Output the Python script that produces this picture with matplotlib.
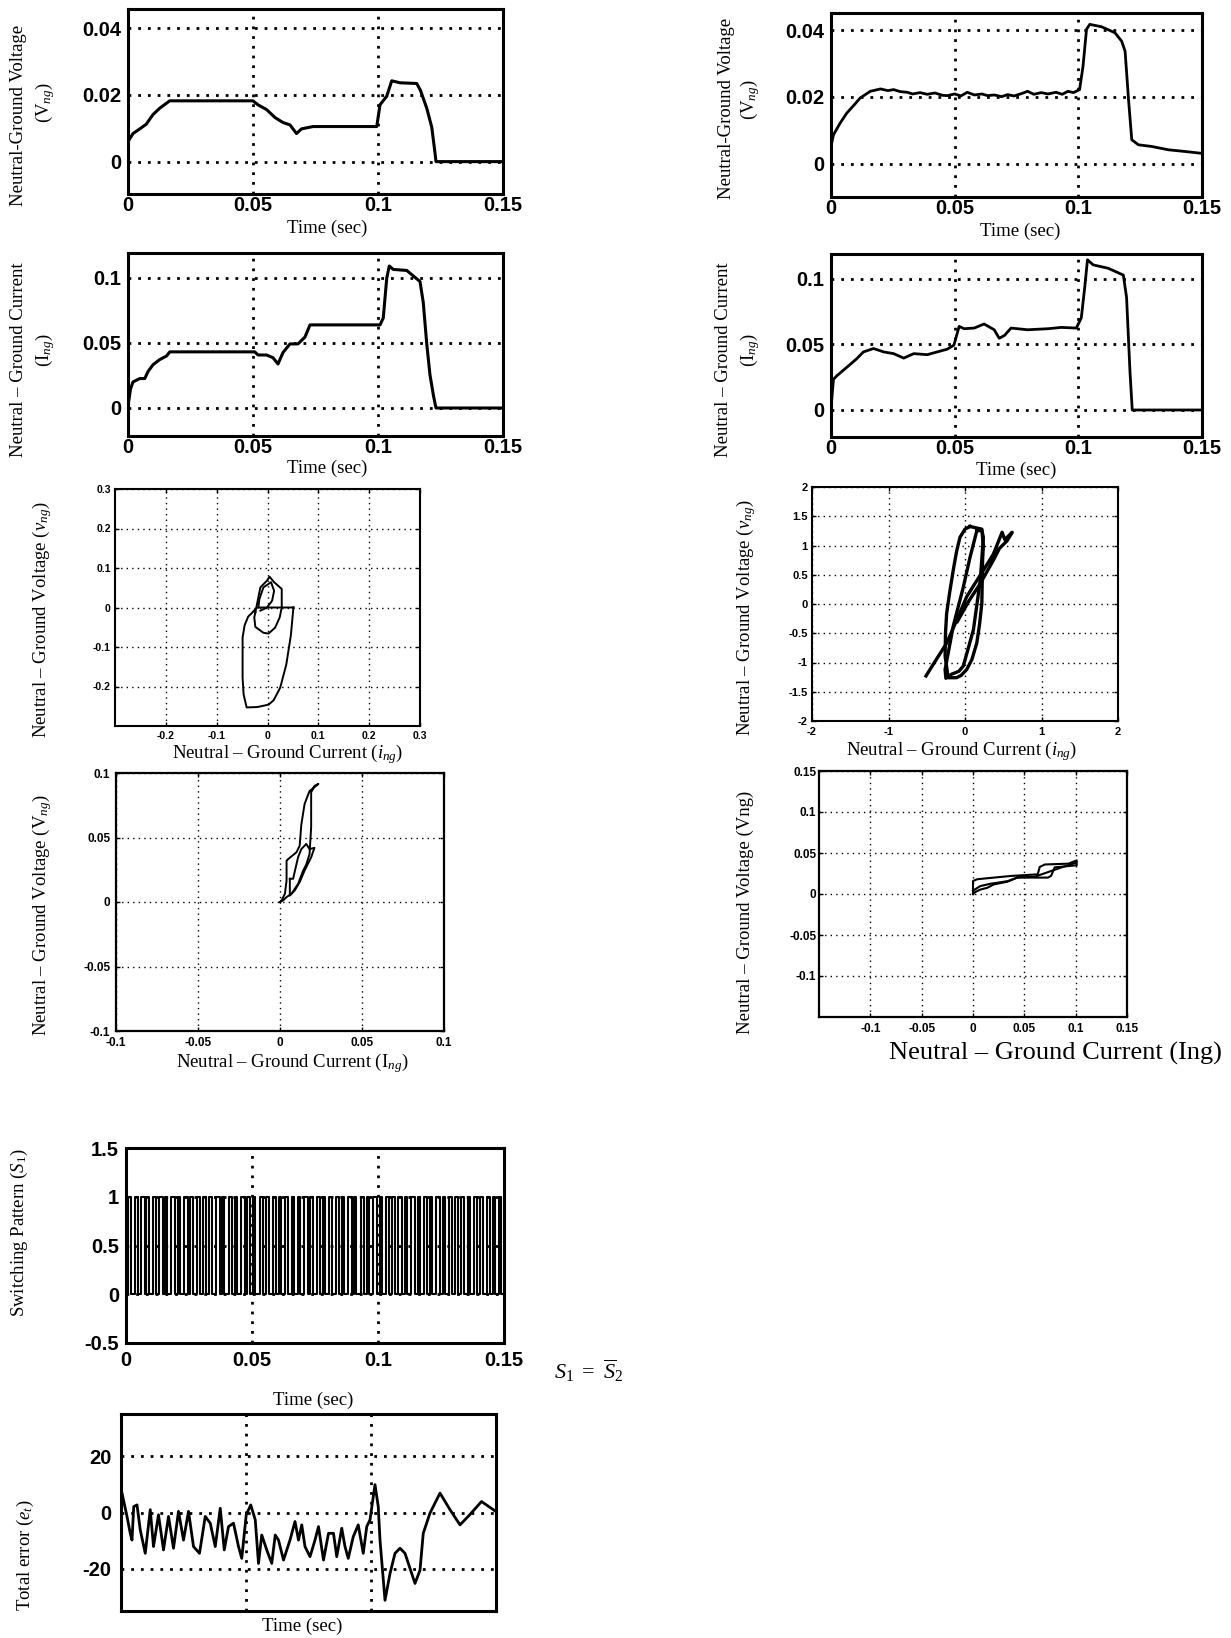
import matplotlib
matplotlib.use('Agg')
import matplotlib.pyplot as plt
import numpy as np

plt.rcParams['font.family'] = ['Liberation Serif', 'DejaVu Serif']
plt.rcParams['mathtext.fontset'] = 'custom'
plt.rcParams['mathtext.rm'] = 'Liberation Serif'
plt.rcParams['mathtext.it'] = 'Liberation Serif:italic'
plt.rcParams['axes.unicode_minus'] = False

# ---------------- data ----------------
# Plot 1: left neutral-ground voltage vs time
v1_t = [0, 0.002, 0.0047, 0.0073, 0.010, 0.0127, 0.0167, 0.050, 0.052, 0.0554, 0.0588,
        0.062, 0.0648, 0.0674, 0.0694, 0.074, 0.0995, 0.1008, 0.1035, 0.1055, 0.1088,
        0.1155, 0.117, 0.1195, 0.1215, 0.1228, 0.1232, 0.15]
v1_v = [0.006, 0.0084, 0.0098, 0.0112, 0.0141, 0.016, 0.0182, 0.0182, 0.017, 0.0156, 0.0132,
        0.0117, 0.011, 0.0084, 0.0098, 0.0105, 0.0105, 0.017, 0.0196, 0.0242, 0.0236,
        0.0234, 0.0213, 0.016, 0.0103, 0.0026, 0.0, 0.0]

# Plot 2: right neutral-ground voltage vs time
v2_t = [0, 0.001, 0.0037, 0.0064, 0.0091, 0.0118, 0.0159, 0.020, 0.023, 0.0253, 0.028,
        0.0308, 0.033, 0.036, 0.0389, 0.042, 0.045, 0.047, 0.050, 0.0525, 0.0551, 0.058,
        0.061, 0.0633, 0.066, 0.069, 0.0714, 0.074, 0.077, 0.0795, 0.082, 0.085, 0.0877,
        0.091, 0.0935, 0.0958, 0.098, 0.1005, 0.1019, 0.1033, 0.1046, 0.1093, 0.1148,
        0.1175, 0.1189, 0.1203, 0.1216, 0.1243, 0.1297, 0.1365, 0.1432, 0.1493, 0.15]
v2_v = [0.0052, 0.0087, 0.0122, 0.0152, 0.0174, 0.0197, 0.0217, 0.0224, 0.0219, 0.0222, 0.0216,
        0.0214, 0.0209, 0.0213, 0.0208, 0.0212, 0.0205, 0.0204, 0.0209, 0.0203, 0.0214, 0.0206,
        0.0209, 0.0204, 0.0206, 0.0201, 0.0207, 0.0203, 0.0210, 0.0217, 0.0208, 0.0213, 0.0209,
        0.0214, 0.0208, 0.0217, 0.0213, 0.0222, 0.0292, 0.0402, 0.0417, 0.0410, 0.0392,
        0.0367, 0.0337, 0.0192, 0.0072, 0.0057, 0.0052, 0.0042, 0.0037, 0.0032, 0.0032]

# Plot 3: left neutral-ground current vs time
i1_t = [0, 0.001, 0.002, 0.0047, 0.0067, 0.008, 0.010, 0.0127, 0.0154, 0.0167, 0.0507,
        0.052, 0.0554, 0.058, 0.060, 0.062, 0.0648, 0.068, 0.0708, 0.0728, 0.1008, 0.1021,
        0.1035, 0.1045, 0.1061, 0.1115, 0.1168, 0.1181, 0.1195, 0.1208, 0.1222, 0.1232, 0.15]
i1_v = [0.0013, 0.0146, 0.020, 0.0226, 0.0226, 0.028, 0.0332, 0.0372, 0.0399, 0.0431, 0.0431,
        0.0407, 0.0407, 0.0386, 0.0338, 0.0426, 0.0492, 0.0492, 0.0545, 0.0638, 0.0638, 0.0691,
        0.0997, 0.109, 0.1064, 0.1056, 0.0971, 0.0811, 0.0492, 0.0253, 0.0093, 0.0, 0.0]

# Plot 4: right neutral-ground current vs time
i2_t = [0, 0.001, 0.0023, 0.0064, 0.0104, 0.0131, 0.0172, 0.0213, 0.0253, 0.0294, 0.0335,
        0.0389, 0.047, 0.0497, 0.0518, 0.0538, 0.0579, 0.0619, 0.066, 0.068, 0.0701, 0.0728,
        0.0795, 0.0877, 0.0931, 0.0992, 0.1012, 0.1026, 0.1037, 0.106, 0.1121, 0.1182,
        0.1195, 0.1209, 0.1218, 0.15]
i2_v = [0.0013, 0.0234, 0.026, 0.0326, 0.0391, 0.0443, 0.0469, 0.0443, 0.043, 0.0396, 0.043,
        0.0422, 0.0464, 0.0495, 0.0638, 0.062, 0.0625, 0.0656, 0.0612, 0.0547, 0.0568, 0.0625,
        0.0612, 0.062, 0.063, 0.0625, 0.0703, 0.0938, 0.1146, 0.1107, 0.1081, 0.1029,
        0.0859, 0.0286, 0.0, 0.0]

# Plot 5: left i-v trajectory
p5a_i = [0.051, 0.046, 0.037, 0.025, 0.012, 0.002, -0.020, -0.041, -0.047, -0.049, -0.049,
         -0.045, -0.038, -0.030, -0.021, 0.000, 0.051]
p5a_v = [0.000, -0.070, -0.144, -0.203, -0.235, -0.246, -0.252, -0.253, -0.220, -0.178, -0.076,
         -0.045, -0.023, -0.013, 0.000, 0.000, 0.000]
p5b_i = [-0.024, -0.014, -0.001, 0.004, 0.013, 0.028, 0.028, 0.024, 0.015, 0.002, -0.008,
         -0.024, -0.026, -0.024]
p5b_v = [-0.013, 0.051, 0.068, 0.078, 0.064, 0.047, 0.000, -0.025, -0.051, -0.066, -0.064,
         -0.049, -0.025, -0.013]
p5c_i = [-0.018, -0.016, -0.008, 0.007, 0.013, 0.009, -0.001, -0.014]
p5c_v = [0.000, 0.021, 0.051, 0.064, 0.042, 0.017, 0.000, -0.008]

# Plot 6: right i-v trajectory
p6a_i = [0.066, 0.15, 0.22, 0.24, 0.23, 0.22, 0.19, 0.154, 0.09, 0.022, -0.05, -0.11, -0.22,
         -0.26, -0.255, -0.24, -0.20, -0.154, -0.11, -0.066, 0.0, 0.066]
p6a_v = [1.325, 1.30, 1.28, 1.0, 0.75, 0.01, -0.35, -0.667, -0.95, -1.12, -1.22, -1.26, -1.26,
         -0.89, -0.5, -0.16, 0.2, 0.576, 0.9, 1.14, 1.28, 1.325]
p6b_i = [0.154, 0.066, -0.022, -0.154, -0.26, -0.25, -0.176, -0.08, -0.022, 0.11, 0.20, 0.24,
         0.22, 0.154]
p6b_v = [1.25, 0.80, 0.29, -0.38, -1.12, -1.27, -1.2, -1.15, -1.06, -0.44, 0.41, 1.14, 1.26, 1.25]
p6c_i = [-0.51, -0.40, -0.24, -0.10, 0.022, 0.13, 0.24, 0.37, 0.485, 0.52, 0.617, 0.55, 0.45,
         0.37, 0.2, 0.05, -0.1]
p6c_v = [-1.23, -1.0, -0.67, -0.25, 0.124, 0.35, 0.576, 0.85, 1.226, 1.1, 1.226, 1.08, 0.95,
         0.746, 0.35, 0.05, -0.3]

# Plot 7: left I-V trajectory
p7a_i = [0.0, 0.002, 0.004, 0.007, 0.011, 0.014, 0.016, 0.018, 0.019, 0.019, 0.021, 0.0234,
         0.021, 0.018, 0.015, 0.013, 0.012, 0.010, 0.005, 0.004, 0.004, 0.003, 0.001, 0.0]
p7a_v = [0.0, 0.0013, 0.0038, 0.0064, 0.014, 0.024, 0.029, 0.037, 0.058, 0.085, 0.090, 0.0915,
         0.089, 0.086, 0.076, 0.060, 0.0436, 0.0385, 0.0333, 0.032, 0.0167, 0.0064, 0.0013, 0.0]
p7b_i = [0.006, 0.008, 0.011, 0.013, 0.016, 0.018, 0.021, 0.019, 0.015, 0.012, 0.009, 0.006, 0.006]
p7b_v = [0.018, 0.018, 0.0346, 0.041, 0.045, 0.041, 0.042, 0.0346, 0.0244, 0.0154, 0.009, 0.005,
         0.018]

# Plot 8: right I-V trajectory
p8a_i = [0.0, 0.0, 0.004, 0.0204, 0.0368, 0.063, 0.065, 0.070, 0.093, 0.101, 0.101, 0.0796,
         0.076, 0.073, 0.053, 0.043, 0.0336, 0.0204, 0.0138, 0.0072, 0.0023, 0.0]
p8a_v = [0.0, 0.0158, 0.018, 0.020, 0.022, 0.024, 0.033, 0.036, 0.037, 0.041, 0.035, 0.0325,
         0.022, 0.020, 0.020, 0.020, 0.015, 0.0117, 0.0075, 0.0054, 0.0025, 0.0]
p8b_i = [0.0, 0.007, 0.017, 0.0237, 0.034, 0.043, 0.05, 0.06, 0.076, 0.09, 0.1]
p8b_v = [0.004, 0.0096, 0.0125, 0.0137, 0.0158, 0.020, 0.021, 0.021, 0.028, 0.034, 0.038]

# Plot 9: switching pattern S1 (rising and falling edges, seconds)
s_rise = [0.0008, 0.0035, 0.0058, 0.0081, 0.0107, 0.0131, 0.0155, 0.0180, 0.0206, 0.0232,
          0.0255, 0.0281, 0.0306, 0.0330, 0.0357, 0.0381, 0.0407, 0.0431, 0.0456, 0.0482,
          0.0505, 0.0530, 0.0557, 0.0582, 0.0606, 0.0630, 0.0657, 0.0681, 0.0706, 0.0732,
          0.0756, 0.0781, 0.0805, 0.0832, 0.0857, 0.0880, 0.0906, 0.0931, 0.0956, 0.0982,
          0.1006, 0.1031, 0.1056, 0.1080, 0.1106, 0.1131, 0.1157, 0.1181, 0.1205, 0.1231,
          0.1256, 0.1281, 0.1306, 0.1330, 0.1356, 0.1381, 0.1405, 0.1431, 0.1456, 0.1480]
s_fall = [0.0018, 0.0046, 0.0074, 0.0090, 0.0119, 0.0145, 0.0164, 0.0194, 0.0214, 0.0247,
          0.0264, 0.0295, 0.0316, 0.0341, 0.0372, 0.0390, 0.0421, 0.0439, 0.0471, 0.0493,
          0.0513, 0.0544, 0.0567, 0.0597, 0.0614, 0.0643, 0.0668, 0.0690, 0.0722, 0.0741,
          0.0770, 0.0789, 0.0816, 0.0846, 0.0865, 0.0895, 0.0914, 0.0945, 0.0964, 0.0996,
          0.1014, 0.1045, 0.1066, 0.1094, 0.1115, 0.1145, 0.1166, 0.1195, 0.1214, 0.1245,
          0.1264, 0.1294, 0.1316, 0.1343, 0.1366, 0.1394, 0.1415, 0.1445, 0.1465, 0.1488]

# Plot 10: total error
e_t = [0.0004, 0.0024, 0.0037, 0.0044, 0.0051, 0.0064, 0.0077, 0.0097, 0.0117, 0.0130, 0.0150,
       0.0170, 0.0190, 0.0210, 0.0230, 0.0250, 0.0270, 0.0290, 0.0314, 0.0337, 0.0357, 0.0377,
       0.0397, 0.0413, 0.0430, 0.0450, 0.0470, 0.0483, 0.0501, 0.0519, 0.0537, 0.0550, 0.0563,
       0.0583, 0.0603, 0.0617, 0.0630, 0.0650, 0.0676, 0.0696, 0.0710, 0.0723, 0.0736, 0.0756,
       0.0776, 0.0790, 0.0810, 0.0830, 0.0850, 0.0863, 0.0883, 0.0896, 0.0909, 0.0929, 0.0949,
       0.0969, 0.0983, 0.0996, 0.1016, 0.1029, 0.1036, 0.1056, 0.1076, 0.1096, 0.1116, 0.1136,
       0.1176, 0.1196, 0.1209, 0.1236, 0.1276, 0.1316, 0.1356, 0.1395, 0.1442, 0.1499]
e_v = [6.9, -1.4, -7.4, -9.8, 2.1, 2.7, -6.2, -14.5, 1.0, -12.1, -0.8, -13.3, -1.4, -12.7, 0.4,
       -9.8, 0.4, -12.1, -14.5, -1.4, -3.8, -12.1, 1.5, -13.3, -5.0, -3.8, -12.1, -16.3, -0.8,
       2.7, -2.6, -18.1, -8.0, -13.3, -18.1, -8.0, -9.8, -16.9, -9.8, -3.2, -9.8, -4.4, -12.1,
       -15.7, -9.8, -5.0, -16.9, -7.4, -7.4, -15.7, -5.6, -12.1, -16.3, -8.6, -4.4, -14.5, -5.0,
       -2.6, 9.9, 2.1, -9.8, -31.2, -21.7, -14.5, -12.7, -14.5, -25.2, -20.5, -7.4, -0.2, 6.9,
       1.0, -4.4, -0.8, 3.9, 0.4]

time_ticks = [0, 0.05, 0.1, 0.15]
time_labels = ['0', '0.05', '0.1', '0.15']

# ---------------- layout ----------------
W, H = 1231, 1638
fig = plt.figure(figsize=(W / 100, H / 100), dpi=100)


def add_ax(l, r, t, b):
    return fig.add_axes([l / W, 1 - b / H, (r - l) / W, (b - t) / H])


def style(ax, xlim, ylim, xt, xtl, yt, ytl, fs, spine_lw, glw, gls, xpad, ypad, tlen=3):
    ax.set_xlim(xlim)
    ax.set_ylim(ylim)
    ax.set_xticks(xt)
    ax.set_xticklabels(xtl)
    ax.set_yticks(yt)
    ax.set_yticklabels(ytl)
    for lab in ax.get_xticklabels() + ax.get_yticklabels():
        lab.set_fontfamily(['Liberation Sans', 'DejaVu Sans'])
        lab.set_fontweight('bold')
        lab.set_fontsize(fs)
    ax.tick_params(direction='in', length=tlen, width=1, top=True, right=True)
    ax.tick_params(axis='x', pad=xpad)
    ax.tick_params(axis='y', pad=ypad)
    for s in ax.spines.values():
        s.set_linewidth(spine_lw)
    ax.set_axisbelow(True)
    ax.grid(True, color='black', linestyle=gls, linewidth=glw)


def vtext(x, y, s, fs=13.5):
    fig.text(x / W, 1 - y / H, s, rotation=90, fontsize=fs, ha='center', va='center')


def htext(x, y, s, fs=13.5):
    fig.text(x / W, 1 - y / H, s, fontsize=fs, ha='center', va='center')


big_grid = (0, (1, 2.5))
small_grid = (0, (1, 3))

# Plot 1
ax1 = add_ax(128, 503, 9, 194)
ax1.plot(v1_t, v1_v, color='black', lw=2.2)
style(ax1, (0, 0.15), (-0.0097, 0.0457), time_ticks, time_labels,
      [0, 0.02, 0.04], ['0', '0.02', '0.04'], 14.5, 2.2, 2.0, big_grid, 1.5, 5, tlen=0)
vtext(19, 115, 'Neutral-Ground Voltage')
vtext(45, 103, r'(V$_{ng}$)')
htext(327, 228, 'Time (sec)')

# Plot 2
ax2 = add_ax(831, 1202, 13, 197)
ax2.plot(v2_t, v2_v, color='black', lw=2.0)
style(ax2, (0, 0.15), (-0.0099, 0.0451), time_ticks, time_labels,
      [0, 0.02, 0.04], ['0', '0.02', '0.04'], 14.5, 2.2, 2.0, big_grid, 1.5, 5, tlen=0)
vtext(727, 108, 'Neutral-Ground Voltage')
vtext(750, 100, r'(V$_{ng}$)')
htext(1020, 231, 'Time (sec)')

# Plot 3
ax3 = add_ax(128, 503, 253, 436)
ax3.plot(i1_t, i1_v, color='black', lw=2.2)
style(ax3, (0, 0.15), (-0.0215, 0.119), time_ticks, time_labels,
      [0, 0.05, 0.1], ['0', '0.05', '0.1'], 14.5, 2.2, 2.0, big_grid, 1.5, 5, tlen=0)
vtext(19, 360, 'Neutral – Ground Current')
vtext(45, 350, r'(I$_{ng}$)')
htext(327, 468, 'Time (sec)')

# Plot 4
ax4 = add_ax(831, 1202, 254, 437)
ax4.plot(i2_t, i2_v, color='black', lw=2.0)
style(ax4, (0, 0.15), (-0.0206, 0.119), time_ticks, time_labels,
      [0, 0.05, 0.1], ['0', '0.05', '0.1'], 14.5, 2.2, 2.0, big_grid, 1.5, 5, tlen=0)
vtext(724, 360, 'Neutral – Ground Current')
vtext(750, 350, r'(I$_{ng}$)')
htext(1016, 470, 'Time (sec)')

# Plot 5
ax5 = add_ax(115, 420, 489, 726)
for xi, yi in ((p5a_i, p5a_v), (p5b_i, p5b_v), (p5c_i, p5c_v)):
    ax5.plot(xi, yi, color='black', lw=1.4)
style(ax5, (-0.3, 0.3), (-0.3, 0.3), [-0.2, -0.1, 0, 0.1, 0.2, 0.3],
      ['-0.2', '-0.1', '0', '0.1', '0.2', '0.3'], [-0.2, -0.1, 0, 0.1, 0.2, 0.3],
      ['-0.2', '-0.1', '0', '0.1', '0.2', '0.3'], 7.5, 1.5, 1.0, small_grid, 3.5, 3)
vtext(42, 620, r'Neutral – Ground Voltage ($v_{ng}$)')
htext(288, 754, r'Neutral – Ground Current ($i_{ng}$)')

# Plot 6
ax6 = add_ax(812, 1118, 487, 721)
for xi, yi in ((p6a_i, p6a_v), (p6b_i, p6b_v), (p6c_i, p6c_v)):
    ax6.plot(xi, yi, color='black', lw=2.4)
style(ax6, (-2, 2), (-2, 2), [-2, -1, 0, 1, 2], ['-2', '-1', '0', '1', '2'],
      [-2, -1.5, -1, -0.5, 0, 0.5, 1, 1.5, 2],
      ['-2', '-1.5', '-1', '-0.5', '0', '0.5', '1', '1.5', '2'], 8, 1.5, 1.0, small_grid, 4, 3)
vtext(746, 618, r'Neutral – Ground Voltage ($v_{ng}$)')
htext(962, 751, r'Neutral – Ground Current ($i_{ng}$)')

# Plot 7
ax7 = add_ax(116, 444, 773, 1031)
for xi, yi in ((p7a_i, p7a_v), (p7b_i, p7b_v)):
    ax7.plot(xi, yi, color='black', lw=1.4)
style(ax7, (-0.1, 0.1), (-0.1, 0.1), [-0.1, -0.05, 0, 0.05, 0.1],
      ['-0.1', '-0.05', '0', '0.05', '0.1'], [-0.1, -0.05, 0, 0.05, 0.1],
      ['-0.1', '-0.05', '0', '0.05', '0.1'], 8.5, 1.6, 1.0, small_grid, 4, 4)
vtext(42, 915, r'Neutral – Ground Voltage (V$_{ng}$)')
htext(292, 1063, r'Neutral – Ground Current (I$_{ng}$)')

# Plot 8
ax8 = add_ax(819, 1127, 771, 1017)
for xi, yi in ((p8a_i, p8a_v), (p8b_i, p8b_v)):
    ax8.plot(xi, yi, color='black', lw=1.5)
style(ax8, (-0.15, 0.15), (-0.15, 0.15), [-0.1, -0.05, 0, 0.05, 0.1, 0.15],
      ['-0.1', '-0.05', '0', '0.05', '0.1', '0.15'], [-0.1, -0.05, 0, 0.05, 0.1, 0.15],
      ['-0.1', '-0.05', '0', '0.05', '0.1', '0.15'], 8.5, 1.6, 1.0, small_grid, 4, 2)
vtext(745, 912, 'Neutral – Ground Voltage (Vng)')
htext(1055, 1053, 'Neutral – Ground Current (Ing)', fs=19)

# Plot 9: switching pattern
ax9 = add_ax(126, 504, 1148, 1343)
st, sv = [0.0], [0.0]
for r, f in zip(s_rise, s_fall):
    st += [r, r, f, f]
    sv += [0, 1, 1, 0]
st.append(0.15)
sv.append(0)
ax9.plot(st, sv, color='black', lw=1.5)
style(ax9, (0, 0.15), (-0.5, 1.5), time_ticks, time_labels,
      [-0.5, 0, 0.5, 1, 1.5], ['-0.5', '0', '0.5', '1', '1.5'], 14.5, 2.2, 2.0, big_grid, 6, 5,
      tlen=0)
vtext(19, 1233, r'Switching Pattern ($S_1$)')
htext(313, 1400, 'Time (sec)')
htext(589, 1371, r'$S_1\ =\ \overline{S}_2$', fs=16)

# Plot 10: total error
ax10 = add_ax(121, 496, 1414, 1611)
ax10.plot(e_t, e_v, color='black', lw=2.0)
style(ax10, (0, 0.15), (-35, 35), time_ticks, ['', '', '', ''],
      [-20, 0, 20], ['-20', '0', '20'], 14.5, 2.2, 2.0, big_grid, 2, 7, tlen=0)
vtext(25, 1555, r'Total error ($e_t$)')
htext(302, 1626, 'Time (sec)')

fig.savefig('out.png', dpi=100)
